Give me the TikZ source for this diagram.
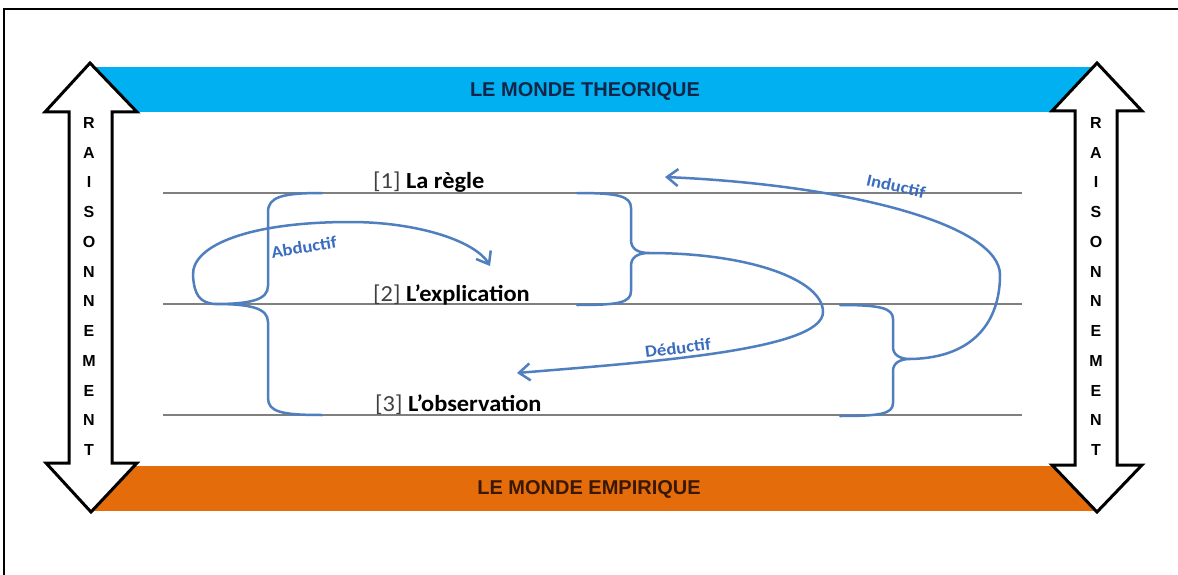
\documentclass[tikz,border=0pt]{standalone}
\usepackage{fontspec}
\usepackage{graphicx}
\setmainfont{Carlito}
\newfontfamily\arialf{Liberation Sans}
\usetikzlibrary{arrows.meta}
\definecolor{bandblue}{HTML}{00B0F0}
\definecolor{bandorange}{HTML}{E46C0A}
\definecolor{curveblue}{HTML}{4F7FBF}
\definecolor{labelblue}{HTML}{3A6CC0}
\definecolor{navytext}{HTML}{14254A}
\definecolor{browntext}{HTML}{3A1800}
\definecolor{rulegray}{HTML}{7F7F7F}
\definecolor{numgray}{HTML}{404040}
\newcommand{\sx}[1]{\scalebox{1.06}[1]{#1}}
\newcommand{\sxl}[1]{\scalebox{1.1}[1]{#1}}
\begin{document}
\begin{tikzpicture}[x=1pt,y=-1pt,
  curve/.style={draw=curveblue, line width=2.5pt, line cap=round, line join=round},
  arrowed/.style={curve, -{Straight Barb[length=11pt,width=17pt,line width=2.5pt]}},
  rule/.style={draw=rulegray, line width=1.6pt},
  lvl/.style={anchor=base west, inner sep=0pt, font=\fontsize{23}{27}\selectfont},
  lab/.style={inner sep=0pt, text=labelblue, font=\bfseries\fontsize{17}{19}\selectfont},
  bandtext/.style={inner sep=0pt, font=\arialf\bfseries\fontsize{20}{22}\selectfont},
  raisl/.style={inner sep=0pt, font=\arialf\bfseries\fontsize{16}{16}\selectfont},
  bigarrow/.style={draw=black, fill=white, line width=3pt, line join=miter}]
\useasboundingbox (0,0) rectangle (1178,575);
\fill[white] (0,0) rectangle (1178,575);
% frame
\coordinate (fbl) at (4,575);
\coordinate (ftl) at (4,9);
\coordinate (ftr) at (1178,9);
\draw[line width=2pt] (fbl) -- (ftl) -- (ftr);
% bands
\fill[bandblue] (90,67) rectangle (1097,112);
\fill[bandorange] (90,466) rectangle (1097,511);
\node[bandtext, text=navytext] (theo) at (585,91) {LE MONDE THEORIQUE};
\node[bandtext, text=browntext] (emp) at (589,489) {LE MONDE EMPIRIQUE};
% double arrows
\draw[bigarrow] (90,63) -- (137,112) -- (112,112) -- (112,463) -- (137,463) -- (91,512)
  -- (46,463) -- (69,463) -- (69,112) -- (45,112) -- cycle;
\draw[bigarrow] (1097,63) -- (1142,111) -- (1117,111) -- (1117,465) -- (1142,465) -- (1097,512)
  -- (1052,465) -- (1075,465) -- (1075,111) -- (1052,111) -- cycle;
\foreach \l [count=\i from 0] in {R,A,I,S,O,N,N,E,M,E,N,T} {
  \node[raisl] (ll\i) at ({89},{123+29.73*\i}) {\l};
  \node[raisl] (rl\i) at ({1096},{123+29.73*\i}) {\l};
}
% level lines
\coordinate (l1a) at (163,193); \coordinate (l1b) at (1022,193);
\coordinate (l2a) at (163,304); \coordinate (l2b) at (1022,304);
\coordinate (l3a) at (163,415); \coordinate (l3b) at (1022,415);
\draw[rule] (l1a) -- (l1b);
\draw[rule] (l2a) -- (l2b);
\draw[rule] (l3a) -- (l3b);
\node[lvl] (t1) at (373,188) {\sx{\textcolor{numgray}{[1]} \textbf{La règle}}};
\node[lvl] (t2) at (373,301) {\sx{\textcolor{numgray}{[2]} \textbf{L’explication}}};
\node[lvl] (t3) at (375,411) {\sx{\textcolor{numgray}{[3]} \textbf{L’observation}}};
% braces
\coordinate (b1top) at (322,193); \coordinate (b1tip) at (215,304); \coordinate (b1bot) at (322,415);
\coordinate (b2top) at (577,193); \coordinate (b2tip) at (649,253); \coordinate (b2bot) at (577,305);
\coordinate (b3top) at (840,305); \coordinate (b3tip) at (910,359); \coordinate (b3bot) at (840,416);
\draw[curve] (b1top) .. controls (282,193) and (268,197) .. (268,212) -- (268,286)
  .. controls (268,300) and (250,304) .. (b1tip)
  .. controls (250,304) and (268,308) .. (268,322) -- (268,398)
  .. controls (268,412) and (282,415) .. (b1bot);
\draw[curve] (b2top) .. controls (618,193) and (631,196) .. (631,208) -- (631,240)
  .. controls (631,249) and (638,253) .. (b2tip)
  .. controls (638,253) and (631,257) .. (631,266) -- (631,291)
  .. controls (631,303) and (618,305) .. (b2bot);
\draw[curve] (b3top) .. controls (880,305) and (893,308) .. (893,319) -- (893,347)
  .. controls (893,355) and (900,359) .. (b3tip)
  .. controls (900,359) and (893,363) .. (893,371) -- (893,403)
  .. controls (893,414) and (880,416) .. (b3bot);
% reasoning arrows
\coordinate (abdend) at (490,266);
\coordinate (dedend) at (517,373);
\coordinate (indend) at (665,177);
\draw[arrowed] (b1tip) .. controls (200,303) and (194,295) .. (193,275)
  .. controls (192,245) and (250,222) .. (350,222)
  .. controls (420,222) and (476,242) .. (abdend);
\draw[arrowed] (b2tip) .. controls (750,253) and (823,280) .. (823,312)
  .. controls (823,350) and (650,362) .. (dedend);
\draw[arrowed] (b3tip) .. controls (975,358) and (1000,320) .. (1000,275)
  .. controls (1000,225) and (850,185) .. (indend);
\node[lab, rotate=9] (abd) at (304,247) {\sxl{Abductif}};
\node[lab, rotate=7] (ded) at (678,348) {\sxl{Déductif}};
\node[lab, rotate=-13] (ind) at (896,186) {\sxl{Inductif}};
\end{tikzpicture}
\end{document}
